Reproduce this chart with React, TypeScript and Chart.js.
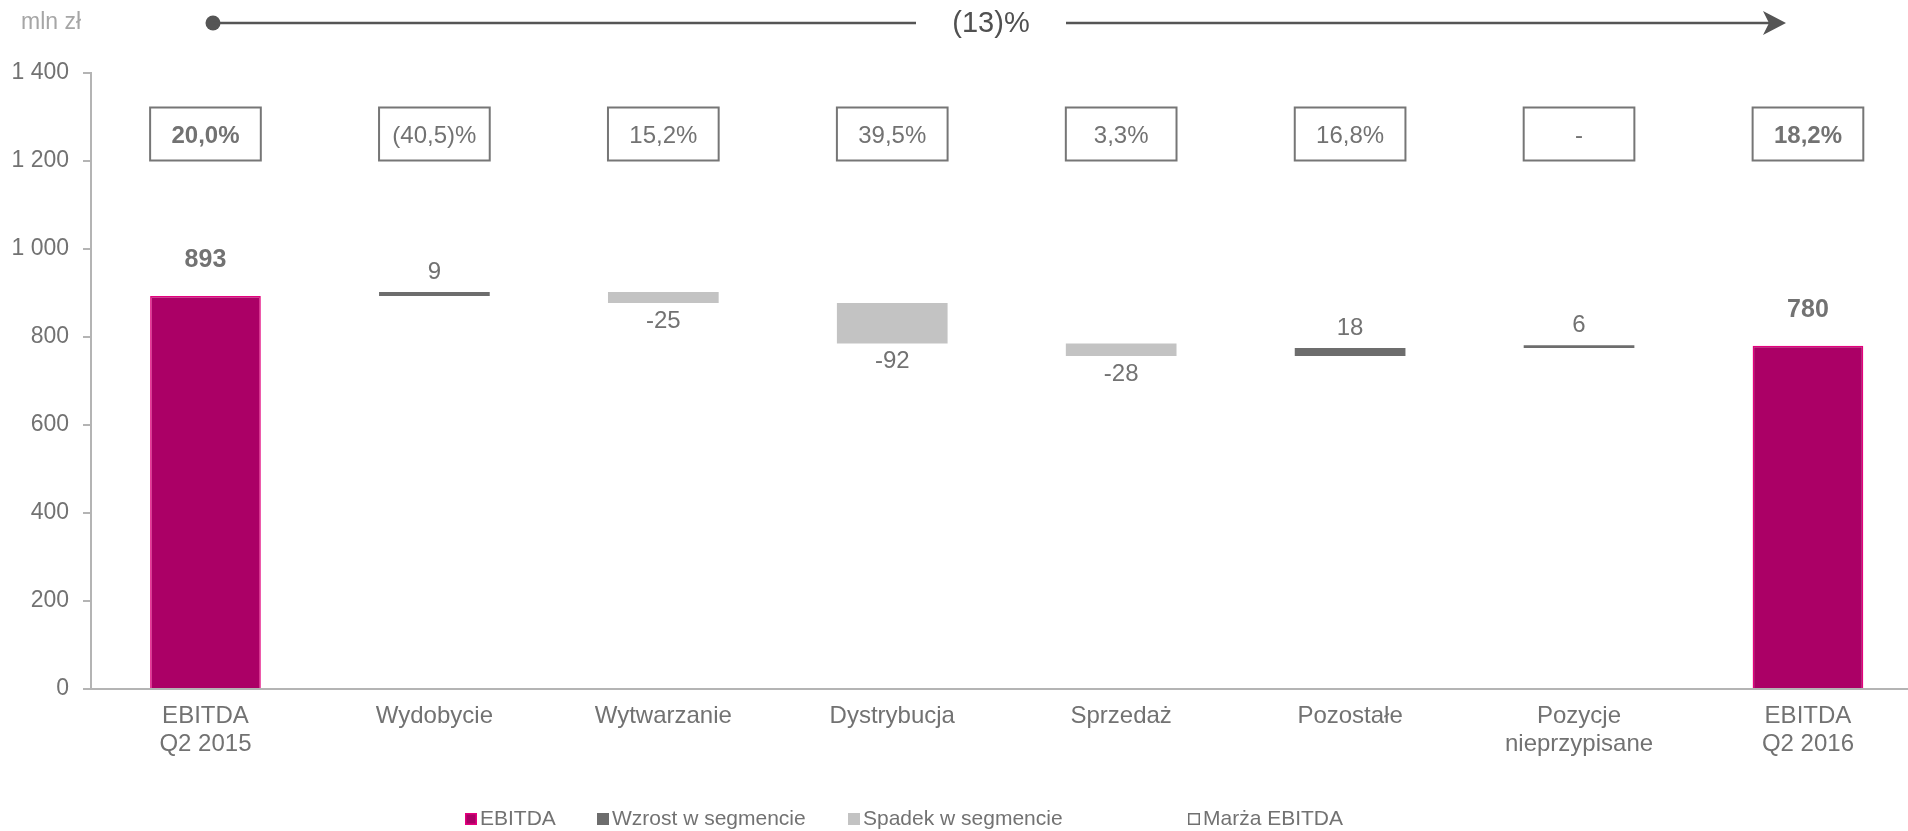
import React, { useEffect, useRef } from "react";
import { Chart, registerables } from "chart.js";

Chart.register(...registerables);

// ---------- data ----------
const categories: string[][] = [
  ["EBITDA", "Q2 2015"],
  ["Wydobycie"],
  ["Wytwarzanie"],
  ["Dystrybucja"],
  ["Sprzedaż"],
  ["Pozostałe"],
  ["Pozycje", "nieprzypisane"],
  ["EBITDA", "Q2 2016"],
];
const startTotal = 893;
const segmentDeltas = [9, -25, -92, -28, 18, 6];
const endTotal = 780;
const barLabels = ["893", "9", "-25", "-92", "-28", "18", "6", "780"];
const marginLabels = ["20,0%", "(40,5)%", "15,2%", "39,5%", "3,3%", "16,8%", "-", "18,2%"];
const marginBold = [true, false, false, false, false, false, false, true];
const yTickValues = [0, 200, 400, 600, 800, 1000, 1200, 1400];
const overallChange = "(13)%";
const unitLabel = "mln zł";
const legendLabels = ["EBITDA", "Wzrost w segmencie", "Spadek w segmencie", "Marża EBITDA"];

// ---------- styles ----------
const FONT = "'Liberation Sans', Arial, sans-serif";
const C_EBITDA = "#AB0066";
const C_EBITDA_BORDER = "#E4007D";
const C_UP = "#6D6D6D";
const C_DOWN = "#C3C3C3";
const C_TEXT = "#727272";
const C_AXIS = "#B4B4B4";

type Kind = "total" | "up" | "down";

function buildBars() {
  const ranges: [number, number][] = [];
  const kinds: Kind[] = [];
  ranges.push([0, startTotal]);
  kinds.push("total");
  let run = startTotal;
  for (const d of segmentDeltas) {
    ranges.push([run, run + d]);
    kinds.push(d >= 0 ? "up" : "down");
    run += d;
  }
  ranges.push([0, endTotal]);
  kinds.push("total");
  return { ranges, kinds };
}

function formatThousands(v: number) {
  return String(v).replace(/\B(?=(\d{3})+(?!\d))/g, " ");
}

export default function App() {
  const ref = useRef<HTMLCanvasElement | null>(null);

  useEffect(() => {
    if (!ref.current) return;
    const { ranges, kinds } = buildBars();
    const colors = kinds.map((k) => (k === "total" ? C_EBITDA : k === "up" ? C_UP : C_DOWN));
    const borderColors = kinds.map((k) => (k === "total" ? C_EBITDA_BORDER : "rgba(0,0,0,0)"));
    const borderWidths = kinds.map((k) => (k === "total" ? 1.5 : 0));

    const overlay = {
      id: "overlay",
      afterDatasetsDraw(chart: any) {
        const ctx: CanvasRenderingContext2D = chart.ctx;
        const meta = chart.getDatasetMeta(0);
        const area = chart.chartArea;
        ctx.save();
        // bar value labels
        meta.data.forEach((el: any, i: number) => {
          const top = Math.min(el.y, el.base);
          const bottom = Math.max(el.y, el.base);
          const k = kinds[i];
          ctx.fillStyle = C_TEXT;
          ctx.textAlign = "center";
          ctx.textBaseline = "middle";
          if (k === "total") {
            ctx.font = `bold 25px ${FONT}`;
            ctx.fillText(barLabels[i], el.x, top - 36);
          } else if (k === "up") {
            ctx.font = `24px ${FONT}`;
            ctx.fillText(barLabels[i], el.x, top - 20);
          } else {
            ctx.font = `24px ${FONT}`;
            ctx.fillText(barLabels[i], el.x, bottom + 18);
          }
          // margin boxes
          const bw = el.width;
          const bx = el.x - bw / 2;
          const by = area.top + 34.5;
          const bh = 53;
          ctx.strokeStyle = "#767676";
          ctx.lineWidth = 2;
          ctx.strokeRect(bx, by, bw, bh);
          ctx.font = `${marginBold[i] ? "bold " : ""}24px ${FONT}`;
          ctx.fillStyle = C_TEXT;
          ctx.fillText(marginLabels[i], el.x, by + bh / 2 + 2);
        });

        // unit label
        ctx.font = `23px ${FONT}`;
        ctx.fillStyle = "#A6A6A6";
        ctx.textAlign = "left";
        ctx.textBaseline = "middle";
        ctx.fillText(unitLabel, 21, 23);

        // top change arrow
        const ay = 23;
        ctx.strokeStyle = "#555555";
        ctx.fillStyle = "#555555";
        ctx.lineWidth = 2.5;
        ctx.beginPath();
        ctx.arc(213, ay, 7.5, 0, Math.PI * 2);
        ctx.fill();
        ctx.beginPath();
        ctx.moveTo(213, ay);
        ctx.lineTo(916, ay);
        ctx.moveTo(1066, ay);
        ctx.lineTo(1770, ay);
        ctx.stroke();
        ctx.beginPath();
        ctx.moveTo(1786, ay);
        ctx.lineTo(1763, ay - 12);
        ctx.lineTo(1769, ay);
        ctx.lineTo(1763, ay + 12);
        ctx.closePath();
        ctx.fill();
        ctx.font = `29px ${FONT}`;
        ctx.fillStyle = "#505050";
        ctx.textAlign = "center";
        ctx.fillText(overallChange, 991, ay + 1);

        // legend
        const ly = 819;
        const items = [
          { x: 465, fill: C_EBITDA, stroke: C_EBITDA_BORDER },
          { x: 597, fill: C_UP, stroke: null },
          { x: 848, fill: C_DOWN, stroke: null },
          { x: 1188, fill: null, stroke: "#707070" },
        ];
        ctx.font = `21px ${FONT}`;
        ctx.textAlign = "left";
        ctx.textBaseline = "middle";
        items.forEach((it, i) => {
          if (it.fill) {
            ctx.fillStyle = it.fill;
            ctx.fillRect(it.x, ly - 6, 12, 12);
          }
          if (it.stroke) {
            ctx.strokeStyle = it.stroke;
            ctx.lineWidth = 1.5;
            ctx.strokeRect(it.x + 0.75, ly - 5.25, 10.5, 10.5);
          }
          ctx.fillStyle = C_TEXT;
          ctx.fillText(legendLabels[i], it.x + 15, ly);
        });
        ctx.restore();
      },
    };

    const chart = new Chart(ref.current, {
      type: "bar",
      data: {
        datasets: [
          {
            data: ranges.map((r, i) => ({ x: i, y: r })) as any,
            backgroundColor: colors,
            borderColor: borderColors,
            borderWidth: borderWidths,
            borderSkipped: "start",
            barPercentage: 0.4835,
            categoryPercentage: 1,
          },
        ],
      },
      options: {
        animation: false,
        responsive: false,
        layout: { padding: { left: 0, right: 0, top: 73, bottom: 62 } },
        plugins: { legend: { display: false }, tooltip: { enabled: false } },
        scales: {
          x: {
            type: "linear",
            offset: false,
            min: -0.5,
            max: 7.437,
            afterBuildTicks: (axis: any) => {
              axis.ticks = categories.map((_, i) => ({ value: i }));
            },
            afterFit: (axis: any) => {
              axis.height = 80;
            },
            grid: { display: false, drawTicks: false },
            border: { display: true, color: C_AXIS, width: 2 },
            ticks: {
              autoSkip: false,
              maxRotation: 0,
              padding: 14,
              color: C_TEXT,
              font: { family: FONT, size: 24, lineHeight: 1.15 },
              callback: (v: any) => categories[Math.round(Number(v))] ?? "",
            },
          },
          y: {
            min: 0,
            max: 1400,
            afterBuildTicks: (axis: any) => {
              axis.ticks = yTickValues.map((v) => ({ value: v }));
            },
            afterFit: (axis: any) => {
              axis.width = 91;
            },
            grid: { drawOnChartArea: false, drawTicks: true, tickLength: 8, color: C_AXIS, lineWidth: 2 },
            border: { display: true, color: C_AXIS, width: 2 },
            ticks: {
              padding: 14,
              color: C_TEXT,
              font: { family: FONT, size: 23 },
              callback: (v: any) => formatThousands(Number(v)),
            },
          },
        },
      },
      plugins: [overlay],
    });
    return () => chart.destroy();
  }, []);

  return (
    <div style={{ position: "fixed", left: 0, top: 0, width: 1908, height: 831, background: "#fff" }}>
      <canvas ref={ref} width={1908} height={831} style={{ display: "block" }} />
    </div>
  );
}
